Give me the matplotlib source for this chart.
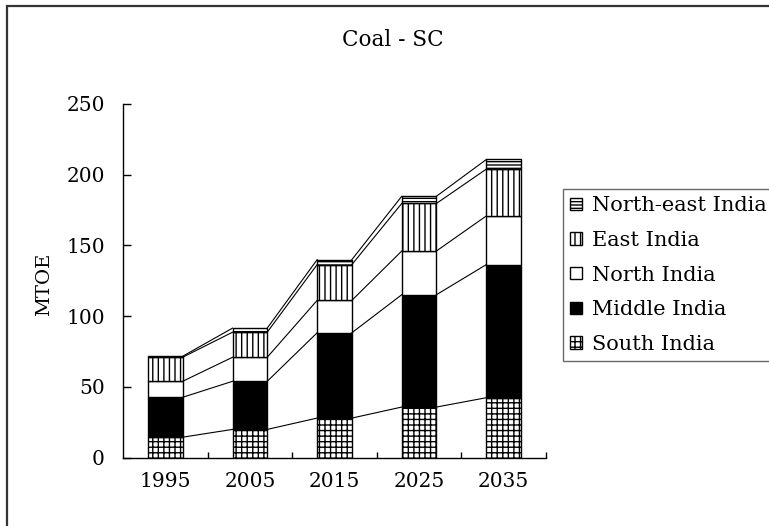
import matplotlib
matplotlib.use("Agg")
import matplotlib.pyplot as plt
from matplotlib.patches import Rectangle
import numpy as np

plt.rcParams['font.family'] = ['DejaVu Serif']
plt.rcParams['hatch.linewidth'] = 1.0

years = ['1995', '2005', '2015', '2025', '2035']
regions = ['South India', 'Middle India', 'North India', 'East India', 'North-east India']
south = [14.5, 20.0, 28.0, 35.8, 42.4]
middle = [28.2, 34.0, 60.3, 79.4, 94.1]
north = [11.3, 17.0, 22.9, 30.9, 34.4]
east = [17.0, 17.7, 25.3, 33.6, 33.1]
northeast = [0.7, 2.9, 3.5, 5.1, 6.8]

series = [south, middle, north, east, northeast]
fills = ['white', 'black', 'white', 'white', 'white']
hatches = ['+++', None, None, '|||', '-----']

fig = plt.figure(figsize=(7.69, 5.26), dpi=100)
ax = fig.add_axes([123 / 769, 1 - 457.7 / 526, (546 - 123) / 769, (457.7 - 104) / 526])

x = np.arange(len(years))
w = 0.41
bottom = np.zeros(len(years))
handles = []
for vals, fc, h, name in zip(series, fills, hatches, regions):
    bars = ax.bar(x, vals, w, bottom=bottom, color=fc, edgecolor='black',
                  hatch=h, linewidth=1.0, label=name)
    handles.append(bars)
    top = bottom + np.array(vals)
    # series lines joining the top of each segment across bars
    for i in range(len(years) - 1):
        ax.plot([x[i] + w / 2, x[i + 1] - w / 2], [top[i], top[i + 1]],
                color='black', linewidth=0.8)
    bottom = top

ax.set_xlim(-0.5, len(years) - 0.5)
ax.set_ylim(0, 250)
ax.set_yticks(range(0, 251, 50))
ax.tick_params(axis='y', direction='in', length=6, width=1, pad=13, labelsize=14.5)
ax.set_xticks(np.arange(0.5, len(years), 1.0))
ax.set_xticklabels([])
ax.set_xticks(x, minor=True)
ax.set_xticklabels(years, minor=True)
ax.tick_params(axis='x', which='major', direction='in', length=4, width=1)
ax.tick_params(axis='x', which='minor', length=0, pad=10, labelsize=14.5)
for side in ['top', 'right']:
    ax.spines[side].set_visible(False)
for side in ['left', 'bottom']:
    ax.spines[side].set_linewidth(1.0)

ax.set_ylabel('MTOE', fontsize=14)
ax.yaxis.set_label_coords(-0.165, 0.49)

fig.text(393 / 769, 1 - 40 / 526, 'Coal - SC', ha='center', va='center', fontsize=15.5)

leg = fig.legend(handles[::-1], regions[::-1], loc='upper left',
                 bbox_to_anchor=(563 / 769, 1 - 189 / 526), borderaxespad=0,
                 fontsize=15, frameon=True, fancybox=False,
                 handlelength=0.55, handleheight=0.55, handletextpad=0.5,
                 labelspacing=0.75, borderpad=0.35)
leg.get_frame().set_edgecolor('#444444')
leg.get_frame().set_linewidth(1.0)

# outer chart border
fig.patches.append(Rectangle((7 / 769, -0.1), 1.2, 1.1 - 6 / 526, transform=fig.transFigure,
                             fill=False, edgecolor='#333333', linewidth=1.6))

fig.savefig('out.png', dpi=100)
